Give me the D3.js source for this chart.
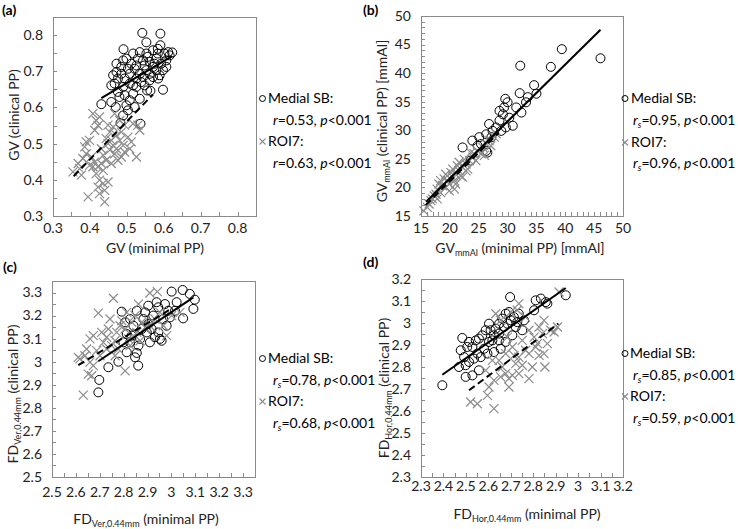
<!DOCTYPE html>
<html><head><meta charset="utf-8">
<script src="https://cdn.jsdelivr.net/npm/d3@7"></script>
<style>html,body{margin:0;padding:0;background:#fff;}svg{display:block;}</style>
</head><body>
<svg id="chart" width="738" height="529"></svg>
<script>
// ---------- DATA ----------
// Panel (a): GV
const aMedial = [[0.542,0.806],[0.591,0.804],[0.553,0.78],[0.591,0.772],[0.491,0.761],[0.623,0.752],[0.607,0.712],[0.585,0.68],[0.598,0.649],[0.431,0.609],[0.458,0.615],[0.47,0.601],[0.49,0.578],[0.483,0.557],[0.537,0.555],[0.535,0.624],[0.555,0.647],[0.564,0.646],[0.472,0.698],[0.463,0.689],[0.467,0.666],[0.458,0.661],[0.48,0.629],[0.494,0.634],[0.508,0.62],[0.517,0.638],[0.526,0.657],[0.485,0.712],[0.499,0.735],[0.517,0.749],[0.535,0.753],[0.553,0.749],[0.571,0.758],[0.584,0.762],[0.602,0.749],[0.616,0.744],[0.544,0.73],[0.562,0.726],[0.58,0.735],[0.593,0.721],[0.571,0.712],[0.553,0.703],[0.535,0.693],[0.521,0.707],[0.508,0.693],[0.494,0.68],[0.508,0.666],[0.526,0.68],[0.544,0.684],[0.562,0.693],[0.58,0.703],[0.589,0.689],[0.539,0.67],[0.517,0.661],[0.49,0.657],[0.476,0.643],[0.499,0.606],[0.521,0.601],[0.503,0.592],[0.472,0.721],[0.49,0.73],[0.53,0.735],[0.557,0.74],[0.575,0.721],[0.607,0.73],[0.598,0.703],[0.562,0.675],[0.548,0.661],[0.571,0.684],[0.476,0.68],[0.485,0.693],[0.503,0.707],[0.512,0.721],[0.526,0.716],[0.548,0.716],[0.584,0.749],[0.612,0.753]];
const aRoi = [[0.354,0.422],[0.368,0.445],[0.377,0.413],[0.39,0.472],[0.399,0.509],[0.386,0.491],[0.408,0.583],[0.417,0.564],[0.422,0.55],[0.413,0.537],[0.426,0.574],[0.404,0.463],[0.413,0.449],[0.422,0.436],[0.431,0.445],[0.436,0.426],[0.426,0.399],[0.422,0.38],[0.436,0.39],[0.449,0.394],[0.395,0.353],[0.44,0.339],[0.444,0.454],[0.454,0.482],[0.463,0.495],[0.472,0.486],[0.458,0.509],[0.472,0.523],[0.481,0.509],[0.49,0.495],[0.494,0.477],[0.467,0.472],[0.449,0.5],[0.463,0.546],[0.454,0.532],[0.485,0.532],[0.503,0.518],[0.512,0.505],[0.517,0.555],[0.53,0.551],[0.535,0.537],[0.526,0.463],[0.372,0.431],[0.381,0.459],[0.408,0.436],[0.39,0.505],[0.436,0.468],[0.444,0.514],[0.476,0.454],[0.458,0.445],[0.485,0.463],[0.508,0.486],[0.431,0.486],[0.417,0.417],[0.44,0.371],[0.426,0.362],[0.399,0.44],[0.481,0.564],[0.494,0.551],[0.449,0.551],[0.467,0.583]];
const aMedialFit = [[0.431,0.626],[0.623,0.742]];
const aRoiFit = [[0.356,0.41],[0.571,0.636]];

// Panel (b): GV mmAl
const bMedial = [[46.1,42.6],[39.4,44.2],[37.5,41.1],[32.2,41.3],[34.6,37.9],[35.0,36.4],[32.1,36.5],[29.6,35.5],[30.0,34.9],[33.2,34.9],[32.4,33.1],[30.9,30.8],[29.2,32.8],[28.6,31.7],[28.0,30.5],[26.8,31.1],[26.3,29.3],[25.1,28.8],[23.9,28.2],[22.2,27.0],[23.6,24.7],[26.3,26.4],[26.5,26.1],[30.3,32.2],[31.5,34.0],[29.4,34.0],[27.4,29.9],[28.9,29.9],[29.7,30.5],[25.4,27.6],[28.6,33.4],[33.5,35.8],[27.2,28.8],[24.8,27.3]];
const bRoi = [[15.5,15.9],[16.4,17.1],[17.0,18.0],[17.6,18.8],[17.8,19.7],[18.4,19.1],[18.7,20.3],[19.3,20.0],[19.6,21.2],[19.9,20.6],[20.5,21.8],[20.8,21.2],[21.0,22.3],[21.6,22.9],[21.9,22.0],[22.2,23.5],[22.8,24.1],[23.1,23.2],[23.4,24.7],[24.0,25.3],[24.2,25.9],[24.8,26.4],[25.4,25.9],[25.7,27.0],[26.3,27.6],[26.8,28.2],[27.1,27.3],[27.7,28.8],[28.0,29.4],[18.1,20.6],[17.3,18.5],[19.0,21.5],[20.2,22.6],[21.3,23.8],[22.5,24.9],[23.6,26.1],[16.7,17.7],[16.1,16.5],[21.0,20.6],[19.9,19.4],[22.2,21.8],[24.5,24.7],[26.0,25.6],[18.4,21.2],[19.3,22.3],[20.5,23.2],[21.6,24.4],[22.8,22.9],[17.8,18.0],[20.8,19.7]];
const bMedialFit = [[15.9,17.5],[46.1,47.6]];
const bRoiFit = [[15.8,16.9],[28.5,29.6]];

// Panel (c): FD Ver
const cMedial = [[2.694,2.867],[2.698,2.921],[2.736,2.976],[2.778,3.0],[2.792,3.217],[2.806,3.171],[2.813,3.041],[2.848,3.019],[2.855,3.038],[2.861,2.983],[2.827,3.084],[2.869,3.099],[2.897,3.127],[2.91,3.084],[2.931,3.106],[2.952,3.099],[2.959,3.091],[2.938,3.258],[2.945,3.236],[2.903,3.243],[2.973,3.25],[3.001,3.304],[3.047,3.311],[3.077,3.294],[3.098,3.269],[3.092,3.229],[3.049,3.188],[3.015,3.221],[2.994,3.192],[2.98,3.156],[3.022,3.258],[2.924,3.2],[2.883,3.185],[2.841,3.156],[2.876,3.142],[2.903,3.163],[2.966,3.185],[2.987,3.221],[2.813,3.12],[2.799,3.084],[2.834,3.113],[2.89,3.214],[2.855,3.221],[2.917,3.142],[2.945,3.127],[2.827,3.185],[2.862,3.07]];
const cRoi = [[2.631,2.855],[2.694,3.211],[2.757,3.275],[2.61,3.019],[2.617,3.012],[2.645,3.055],[2.666,2.939],[2.652,2.946],[2.806,2.96],[2.673,3.113],[2.687,3.048],[2.708,3.127],[2.715,3.084],[2.729,3.106],[2.736,3.142],[2.75,3.07],[2.764,3.091],[2.771,3.127],[2.785,3.156],[2.792,3.178],[2.806,3.142],[2.82,3.099],[2.834,3.171],[2.848,3.2],[2.862,3.25],[2.91,3.298],[2.941,3.304],[2.876,3.171],[2.89,3.149],[2.931,3.185],[2.952,3.214],[2.98,3.113],[2.659,2.998],[2.638,3.026],[2.701,3.026],[2.764,3.026],[2.743,3.185],[2.813,3.214],[2.659,3.099],[2.729,3.055],[2.778,3.055],[2.855,3.127],[2.91,3.156],[2.966,3.156],[3.001,3.2],[3.036,3.214],[2.673,2.983],[2.827,3.07],[2.869,3.091]];
const cMedialFit = [[2.694,3.002],[3.092,3.279]];
const cRoiFit = [[2.61,2.985],[3.0,3.23]];

// Panel (d): FD Hor
const dMedial = [[2.395,2.717],[2.484,2.932],[2.697,3.118],[2.945,3.126],[2.811,3.103],[2.834,3.111],[2.856,3.095],[2.863,3.088],[2.804,3.058],[2.469,2.8],[2.499,2.755],[2.529,2.762],[2.558,2.785],[2.477,2.876],[2.492,2.845],[2.506,2.891],[2.514,2.914],[2.529,2.891],[2.544,2.921],[2.551,2.861],[2.536,2.838],[2.514,2.823],[2.499,2.808],[2.558,2.929],[2.566,2.845],[2.603,2.997],[2.61,2.967],[2.625,2.944],[2.633,2.974],[2.648,2.997],[2.662,3.02],[2.677,3.042],[2.692,3.05],[2.714,3.027],[2.736,3.042],[2.759,3.012],[2.751,2.967],[2.7,3.012],[2.67,2.982],[2.648,2.952],[2.603,2.914],[2.596,2.861],[2.625,2.868],[2.655,2.883],[2.677,2.914],[2.707,2.944],[2.722,2.982],[2.648,2.921],[2.618,2.921],[2.588,2.967],[2.685,2.997],[2.729,3.004],[2.581,2.883],[2.573,2.944]];
const dRoi = [[2.521,2.641],[2.551,2.633],[2.625,2.611],[2.596,2.671],[2.603,2.709],[2.625,2.739],[2.655,2.755],[2.677,2.77],[2.692,2.747],[2.707,2.762],[2.736,2.77],[2.692,2.709],[2.781,2.747],[2.722,2.815],[2.751,2.808],[2.781,2.861],[2.766,2.876],[2.811,2.891],[2.848,2.861],[2.852,2.8],[2.819,2.906],[2.841,2.952],[2.826,2.982],[2.848,3.012],[2.878,2.967],[2.893,2.959],[2.908,2.982],[2.915,3.141],[2.736,3.088],[2.729,3.058],[2.766,3.027],[2.781,2.967],[2.751,2.921],[2.707,2.891],[2.677,2.861],[2.648,2.83],[2.618,2.83],[2.662,2.8],[2.714,2.853],[2.736,2.845],[2.796,2.8],[2.804,2.936],[2.685,2.936],[2.655,3.012],[2.7,3.05],[2.633,3.042],[2.588,2.785],[2.826,2.853],[2.863,2.906]];
const dMedialFit = [[2.395,2.765],[2.945,3.159]];
const dRoiFit = [[2.514,2.694],[2.912,2.997]];

// Axis bounds and tick steps: [min, max, label step, tick step]
const aAxis = [0.3, 0.85, 0.1, 0.05];
const bAxis = [15, 50, 5, 1];
const cAxis = [2.5, 3.35, 0.1, 0.05];
const dAxis = [2.3, 3.2, 0.1, 0.05];

// Legend statistics
const legendStats = [
  {sym:"r", sub:null, m:"0.53", r:"0.63"},
  {sym:"r", sub:"s",  m:"0.95", r:"0.96"},
  {sym:"r", sub:"s",  m:"0.78", r:"0.68"},
  {sym:"r", sub:"s",  m:"0.85", r:"0.59"}
];

// ---------- DRAWING ----------
const FONT = "Lato, 'Open Sans', 'Noto Sans', sans-serif";
const TXT = "#222";
const BOX = "#8a8a8a";
const GRAY = "#8c8c8c";
const svg = d3.select("#chart");

const panels = [
  {label:"(a)", lab:[2,15], box:[53,17,256,216], axis:aAxis, medial:aMedial, roi:aRoi, mFit:aMedialFit, rFit:aRoiFit,
   xlabY:233, xTitle:{x:155,y:253,parts:[["GV (minimal PP)"]]}, yTitle:{x:14,y:115,parts:[["GV (clinical PP)"]]},
   leg:{cx:262.5,tx:268,ix:273,ys:[98,120,141,163]}, stats:legendStats[0]},
  {label:"(b)", lab:[363,15], box:[421,16,623,216], axis:bAxis, medial:bMedial, roi:bRoi, mFit:bMedialFit, rFit:bRoiFit,
   xlabY:233, xTitle:{x:520,y:253,parts:[["GV"],["mmAl","sub"],[" (minimal PP) [mmAl]"]]}, yTitle:{x:382,y:121,parts:[["GV"],["mmAl","sub"],[" (clinical PP) [mmAl]"]]},
   leg:{cx:625,tx:631,ix:633,ys:[98,120,142,163]}, stats:legendStats[1]},
  {label:"(c)", lab:[3,272], box:[52,281,255,477], axis:cAxis, medial:cMedial, roi:cRoi, mFit:cMedialFit, rFit:cRoiFit,
   xlabY:497, xTitle:{x:146,y:524,parts:[["FD"],["Ver,0.44mm","sub"],[" (minimal PP)"]]}, yTitle:{x:13,y:394,parts:[["FD"],["Ver,0.44mm","sub"],[" (clinical PP)"]]},
   leg:{cx:262.5,tx:268,ix:273,ys:[358,380,401,423]}, stats:legendStats[2]},
  {label:"(d)", lab:[363,267], box:[421,279,623,477], axis:dAxis, medial:dMedial, roi:dRoi, mFit:dMedialFit, rFit:dRoiFit,
   xlabY:491, xTitle:{x:527,y:519,parts:[["FD"],["Hor,0.44mm","sub"],[" (minimal PP)"]]}, yTitle:{x:384,y:388,parts:[["FD"],["Hor,0.44mm","sub"],[" (clinical PP)"]]},
   leg:{cx:625,tx:630,ix:633,ys:[353,375,396,418]}, stats:legendStats[3]}
];

function steps(min, max, step){
  const n = Math.round((max-min)/step);
  return d3.range(n+1).map(i => +(min + i*step).toFixed(4));
}
const fmt = v => String(+v.toFixed(2));

function richText(sel, parts){
  let inSub = false;
  parts.forEach(p => {
    const t = sel.append("tspan").text(p[0]);
    if (p[1] === "sub") { t.attr("font-size", 9).attr("dy", 3); inSub = true; }
    else if (inSub) { t.attr("dy", -3); inSub = false; }
  });
}

const cross = "M-4.5,-4.5L4.5,4.5M-4.5,4.5L4.5,-4.5";

panels.forEach(P => {
  const [x0,y0,x1,y1] = P.box;
  const [mn,mx,major,minor] = P.axis;
  const x = d3.scaleLinear().domain([mn,mx]).range([x0,x1]);
  const y = d3.scaleLinear().domain([mn,mx]).range([y1,y0]);
  const g = svg.append("g");

  // panel label
  g.append("text").attr("x",P.lab[0]).attr("y",P.lab[1]).attr("font-family",FONT)
    .attr("font-size",14).attr("font-weight","bold").attr("fill","#000").text(P.label);

  // box
  g.append("rect").attr("x",x0+0.5).attr("y",y0+0.5).attr("width",x1-x0).attr("height",y1-y0)
    .attr("fill","none").attr("stroke",BOX).attr("stroke-width",1);

  // inner ticks
  const minorTicks = steps(mn,mx,minor);
  g.append("g").selectAll("line").data(minorTicks).join("line")
    .attr("x1",d=>Math.round(x(d))+0.5).attr("x2",d=>Math.round(x(d))+0.5)
    .attr("y1",y1).attr("y2",y1-4).attr("stroke",BOX);
  g.append("g").selectAll("line").data(minorTicks).join("line")
    .attr("y1",d=>Math.round(y(d))+0.5).attr("y2",d=>Math.round(y(d))+0.5)
    .attr("x1",x0).attr("x2",x0+4).attr("stroke",BOX);

  // tick labels
  const majorTicks = steps(mn,mx,major).filter(v => v <= mx + 1e-9);
  g.append("g").selectAll("text").data(majorTicks).join("text")
    .attr("x",d=>x(d)).attr("y",P.xlabY).attr("text-anchor","middle")
    .attr("font-family",FONT).attr("font-size",14).attr("fill",TXT).text(fmt);
  g.append("g").selectAll("text").data(majorTicks).join("text")
    .attr("x",x0-10).attr("y",d=>y(d)).attr("dy","0.35em").attr("text-anchor","end")
    .attr("font-family",FONT).attr("font-size",14).attr("fill",TXT).text(fmt);

  // axis titles
  const xt = g.append("text").attr("x",P.xTitle.x).attr("y",P.xTitle.y).attr("text-anchor","middle")
    .attr("font-family",FONT).attr("font-size",14).attr("fill",TXT);
  richText(xt, P.xTitle.parts);
  const yt = g.append("text").attr("transform",`translate(${P.yTitle.x},${P.yTitle.y}) rotate(-90)`)
    .attr("dy","0.35em").attr("text-anchor","middle")
    .attr("font-family",FONT).attr("font-size",14).attr("fill",TXT);
  richText(yt, P.yTitle.parts);

  // points
  g.append("g").selectAll("circle").data(P.medial).join("circle")
    .attr("cx",d=>x(d[0])).attr("cy",d=>y(d[1])).attr("r",4.5)
    .attr("fill","none").attr("stroke","#000").attr("stroke-width",1);
  g.append("g").selectAll("path").data(P.roi).join("path")
    .attr("transform",d=>`translate(${x(d[0])},${y(d[1])})`).attr("d",cross)
    .attr("stroke",GRAY).attr("stroke-width",1.2).attr("fill","none");

  // trend lines
  const line = d3.line().x(d=>x(d[0])).y(d=>y(d[1]));
  g.append("path").attr("d",line(P.mFit)).attr("stroke","#000").attr("stroke-width",2).attr("fill","none");
  g.append("path").attr("d",line(P.rFit)).attr("stroke","#000").attr("stroke-width",2)
    .attr("stroke-dasharray","7,4").attr("fill","none");

  // legend
  const L = P.leg, S = P.stats;
  g.append("circle").attr("cx",L.cx).attr("cy",L.ys[0]+0.5).attr("r",3).attr("fill","none").attr("stroke","#000");
  g.append("path").attr("transform",`translate(${L.cx},${L.ys[2]+0.5})`).attr("d","M-3,-3L3,3M-3,3L3,-3")
    .attr("stroke",GRAY).attr("stroke-width",1.1);
  const lt = (xx,yy) => g.append("text").attr("x",xx).attr("y",yy).attr("dy","0.35em")
    .attr("font-family",FONT).attr("font-size",14).attr("fill","#000");
  lt(L.tx,L.ys[0]).text("Medial SB:");
  lt(L.tx,L.ys[2]).text("ROI7:");
  [[L.ys[1],S.m],[L.ys[3],S.r]].forEach(([yy,val]) => {
    const t = lt(L.ix,yy);
    t.append("tspan").attr("font-style","italic").text(S.sym);
    if (S.sub) {
      t.append("tspan").attr("font-style","italic").attr("font-size",9).attr("dy",3).text(S.sub);
      t.append("tspan").attr("dy",-3).text("=" + val + ", ");
    } else {
      t.append("tspan").text("=" + val + ", ");
    }
    t.append("tspan").attr("font-style","italic").text("p");
    t.append("tspan").text("<0.001");
  });
});
</script>
</body></html>
